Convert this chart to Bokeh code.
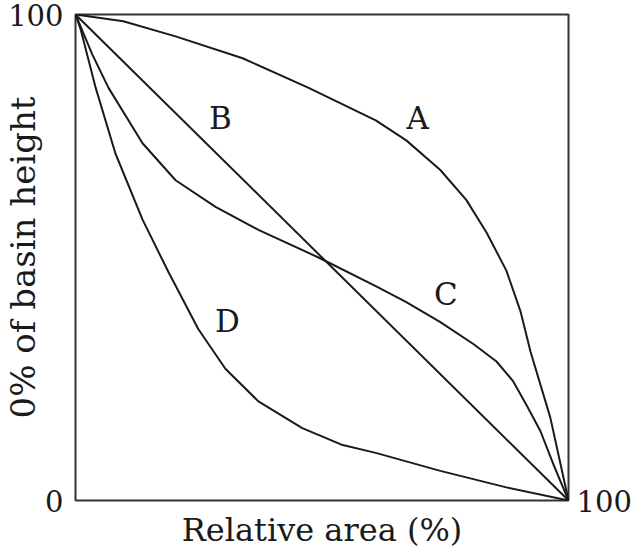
from bokeh.plotting import figure
from bokeh.models import FixedTicker, Label, LinearAxis
from bokeh.embed import file_html
from bokeh.resources import INLINE

# Curve data (relative area %, % of basin height)
a_x = [0, 9.7, 20.3, 33.9, 47.3, 60.9, 67.1, 74.0, 79.3, 83.4, 87.4, 90.3, 92.3, 96.3, 100]
a_y = [100, 98.6, 95.5, 91.0, 84.9, 78.2, 74.1, 68.0, 61.8, 55.1, 47.3, 38.8, 30.6, 17.1, 0]

b_x = [0, 100]
b_y = [100, 0]

c_x = [0, 3.4, 6.7, 13.6, 20.3, 28.4, 37.1, 49.3, 60.9, 67.1, 74.0, 80.7, 85.4, 88.8, 91.5, 94.3, 97.0, 100]
c_y = [100, 91.8, 84.9, 73.5, 65.9, 60.4, 55.7, 50.0, 44.1, 40.8, 36.7, 32.2, 28.6, 24.5, 19.6, 14.3, 7.3, 0]

d_x = [0, 1.0, 4.1, 8.1, 13.6, 18.9, 24.9, 30.4, 37.1, 46.0, 54.2, 60.9, 74.0, 87.4, 100]
d_y = [100, 97.1, 84.9, 71.4, 57.8, 46.9, 35.3, 27.1, 20.4, 14.9, 11.4, 9.8, 6.1, 2.7, 0]

curve_names = ["A", "B", "C", "D"]
label_x = [69.4, 29.4, 75.1, 30.8]
label_y = [78.8, 78.8, 42.4, 36.9]

y_ticks = [0, 100]
x_end_label = "100"
x_title = "Relative area (%)"
y_title = "0% of basin height"

FONT = "DejaVu Serif"
INK = "#1a1a1a"

p = figure(
    frame_width=493, frame_height=486,
    x_range=(0, 100), y_range=(0, 100),
    output_backend="svg", toolbar_location=None,
    min_border_left=74, min_border_right=40, min_border_top=14, min_border_bottom=47,
    background_fill_color="white", border_fill_color="white",
)
p.grid.visible = False
p.outline_line_color = "#333333"
p.outline_line_width = 2


def bare(axis):
    axis.axis_line_color = None
    axis.major_tick_line_color = None
    axis.minor_tick_line_color = None
    axis.major_tick_out = 0
    axis.major_tick_in = 0
    axis.minor_tick_out = 0
    axis.minor_tick_in = 0


# left axis: 0 and 100, plus the vertical title
ya = p.yaxis[0]
ya.ticker = FixedTicker(ticks=y_ticks)
bare(ya)
ya.major_label_standoff = 12
ya.major_label_text_font = FONT
ya.major_label_text_font_size = "29px"
ya.major_label_text_color = INK
ya.axis_label = y_title
ya.axis_label_standoff = -38
ya.axis_label_text_font = FONT
ya.axis_label_text_font_style = "normal"
ya.axis_label_text_font_size = "34px"
ya.axis_label_text_color = INK

# right axis: only the "100" at the end of the x scale, next to the corner
ra = LinearAxis(ticker=FixedTicker(ticks=[0]), major_label_overrides={0: x_end_label})
bare(ra)
ra.major_label_standoff = 8
ra.major_label_text_font = FONT
ra.major_label_text_font_size = "29px"
ra.major_label_text_color = INK
p.add_layout(ra, "right")

# bottom axis: title only
xa = p.xaxis[0]
xa.ticker = FixedTicker(ticks=[])
bare(xa)
xa.major_label_standoff = 0
xa.axis_label = x_title
xa.axis_label_standoff = 10
xa.axis_label_text_font = FONT
xa.axis_label_text_font_style = "normal"
xa.axis_label_text_font_size = "32px"
xa.axis_label_text_color = INK

for xs, ys in [(a_x, a_y), (b_x, b_y), (c_x, c_y), (d_x, d_y)]:
    p.line(xs, ys, line_color=INK, line_width=2, line_join="round")

for name, lx, ly in zip(curve_names, label_x, label_y):
    p.add_layout(Label(x=lx, y=ly, text=name, text_align="center", text_baseline="middle",
                       text_font=FONT, text_font_size="31px", text_color=INK))

open("out.html", "w").write(file_html(p, INLINE))
